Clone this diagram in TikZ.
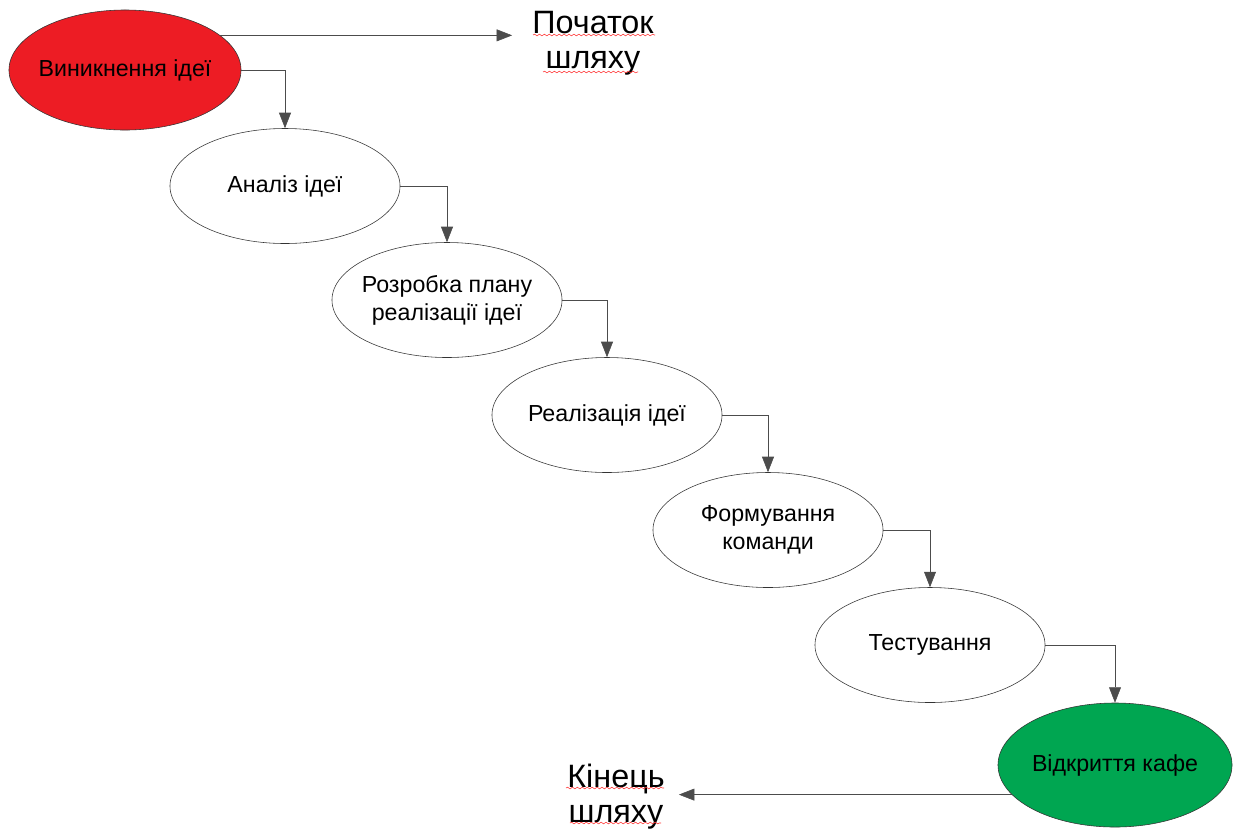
\documentclass[tikz,border=0pt]{standalone}
\usepackage{fontspec}
\setmainfont{Liberation Sans}
\usetikzlibrary{shapes.geometric, arrows.meta, decorations.pathmorphing}
\definecolor{ideared}{RGB}{237,28,36}
\definecolor{cafegreen}{RGB}{0,166,81}

\begin{document}
\begin{tikzpicture}[x=0.025cm,y=-0.025cm,
 thin,stage/.style={ellipse,draw=black!80,fill=white,minimum width=5.75cm,
  minimum height=2.875cm,inner sep=0pt,
  label={[align=center,font=\fontsize{16.5}{20}\selectfont]center:#1}},
 link/.style={draw=black!70,-{Triangle[length=11pt,width=8.5pt]}},
 big/.style={align=center,inner sep=0pt,font=\fontsize{23}{25}\selectfont},
 squig/.style={draw=red!80,decorate,decoration={snake,amplitude=0.6pt,segment length=3.5pt}}]
  \useasboundingbox (0,0) rectangle (1234,831);

  \node[stage={Виникнення ідеї},fill=ideared,minimum width=5.8cm,minimum height=3cm] (1) at (125,70) {};
  \node[stage={Аналіз ідеї}] (2) at (285,186) {};
  \node[stage={Розробка плану\\реалізації ідеї}] (3) at (447,300) {};
  \node[stage={Реалізація ідеї}] (4) at (607,415) {};
  \node[stage={Формування\\команди}] (5) at (768,530) {};
  \node[stage={Тестування}] (6) at (930,645) {};
  \node[stage={Відкриття кафе},fill=cafegreen,minimum width=5.85cm,minimum height=3.1cm] (7) at (1115,765) {};

  \node[big] (start) at (593,43) {Початок\\шляху};
  \node[big] (finish) at (616,797) {Кінець\\шляху};
  \coordinate (starttip) at ([xshift=-0.5cm]start.west);
  \coordinate (finishtip) at ([xshift=0.35cm]finish.east);

  \foreach \s/\t in {1/2, 2/3, 3/4, 4/5, 5/6, 6/7} {
   \path[link] (\s.east) -| (\t.north);}
  \draw[link] (1.20) -- (1.20 -| starttip);
  \draw[link] (7.196) -- (7.196 -| finishtip);

  % spell-check marks
  \draw[squig] (533,35) -- (655,35);
  \draw[squig] (543,72) -- (638,72);
  \draw[squig] (566,788) -- (664,788);
  \draw[squig] (570,823) -- (661,823);
\end{tikzpicture}
\end{document}
